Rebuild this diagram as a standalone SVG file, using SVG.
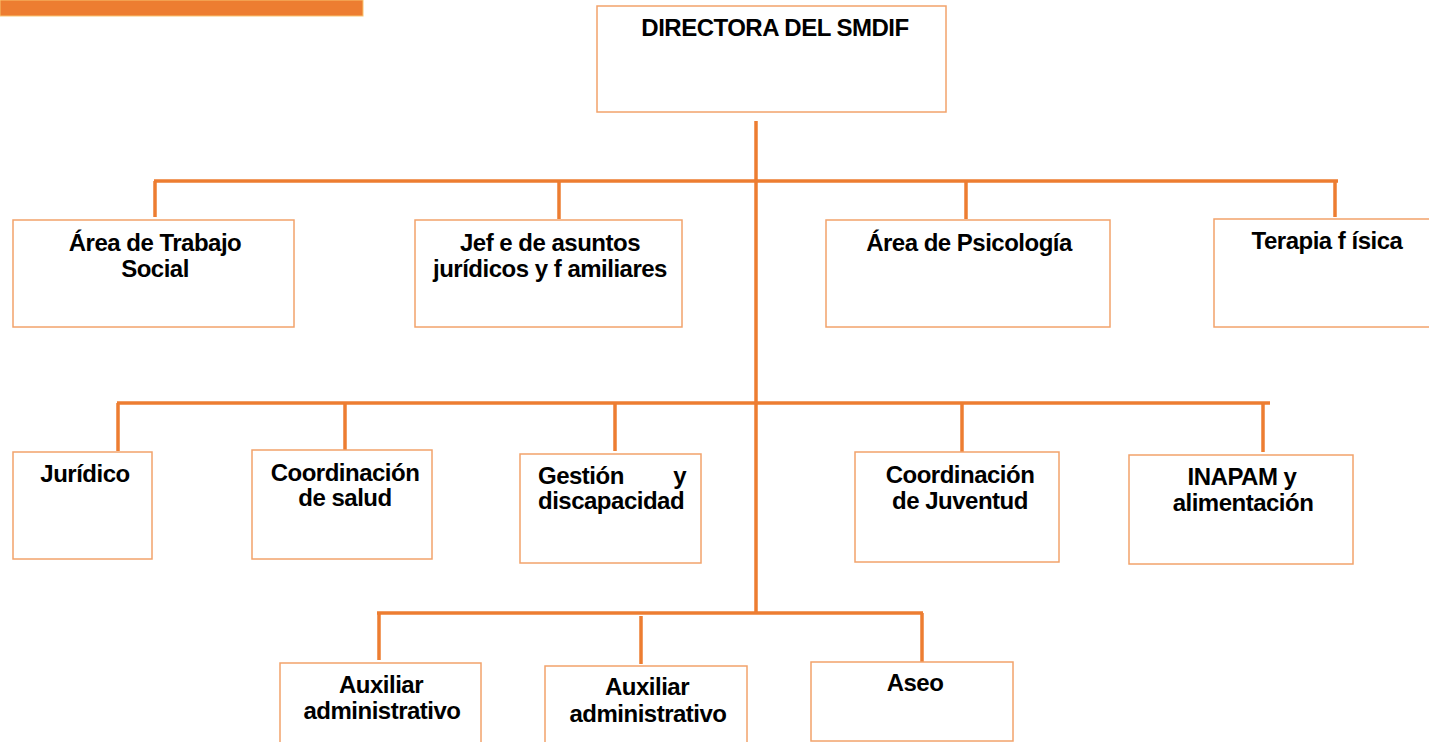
<svg xmlns="http://www.w3.org/2000/svg" width="1429" height="742" viewBox="0 0 1429 742">
<style>
.box{fill:#FFFFFF;stroke:#F2A36B;stroke-width:1.5}
.ln{stroke:#ED7D31;stroke-width:3.5;fill:none;stroke-linecap:butt}
text{font-family:"Liberation Sans",Arial,sans-serif;font-weight:bold;font-size:24px;fill:#000;letter-spacing:-0.5px}
.c{text-anchor:middle}
</style>
<rect x="0" y="0" width="363" height="16" fill="#ED7D31" stroke="#F9C46E" stroke-width="1"/>
<g id="connectors">
<line class="ln" x1="756" y1="121" x2="756" y2="614"/>
<line class="ln" x1="154" y1="181" x2="1338" y2="181"/>
<line class="ln" x1="155" y1="181" x2="155" y2="217"/>
<line class="ln" x1="559" y1="181" x2="559" y2="219"/>
<line class="ln" x1="966" y1="181" x2="966" y2="219"/>
<line class="ln" x1="1335" y1="181" x2="1335" y2="217"/>
<line class="ln" x1="117" y1="403" x2="1270" y2="403"/>
<line class="ln" x1="118" y1="403" x2="118" y2="451"/>
<line class="ln" x1="345" y1="403" x2="345" y2="452"/>
<line class="ln" x1="615" y1="403" x2="615" y2="451"/>
<line class="ln" x1="962" y1="403" x2="962" y2="452"/>
<line class="ln" x1="1263" y1="403" x2="1263" y2="452"/>
<line class="ln" x1="377" y1="613" x2="923" y2="613"/>
<line class="ln" x1="379" y1="613" x2="379" y2="660"/>
<line class="ln" x1="641" y1="616" x2="641" y2="664"/>
<line class="ln" x1="922" y1="613" x2="922" y2="662"/>
</g>
<g id="directora">
<rect class="box" x="597" y="6" width="349" height="106"/>
<text class="c" x="775" y="36" letter-spacing="-1">DIRECTORA DEL SMDIF</text>
</g>
<g id="trabajo-social">
<rect class="box" x="13" y="220" width="281" height="107"/>
<text class="c" x="155" y="251">Área de Trabajo</text>
<text class="c" x="155" y="277">Social</text>
</g>
<g id="jefe-juridicos">
<rect class="box" x="415" y="220" width="267" height="107"/>
<text class="c" x="550" y="251">Jef e de asuntos</text>
<text class="c" x="550" y="277">jurídicos y f amiliares</text>
</g>
<g id="psicologia">
<rect class="box" x="826" y="220" width="284" height="107"/>
<text class="c" x="969" y="251">Área de Psicología</text>
</g>
<g id="terapia">
<rect class="box" x="1214" y="219" width="220" height="108"/>
<text class="c" x="1327" y="249">Terapia f ísica</text>
</g>
<g id="juridico">
<rect class="box" x="13" y="452" width="139" height="107"/>
<text class="c" x="85" y="482">Jurídico</text>
</g>
<g id="coord-salud">
<rect class="box" x="252" y="450" width="180" height="109"/>
<text class="c" x="345" y="481">Coordinación</text>
<text class="c" x="345" y="506">de salud</text>
</g>
<g id="gestion">
<rect class="box" x="520" y="454" width="181" height="109"/>
<text x="538" y="484">Gestión</text>
<text x="686" y="484" text-anchor="end">y</text>
<text x="538" y="509">discapacidad</text>
</g>
<g id="coord-juventud">
<rect class="box" x="855" y="452" width="204" height="110"/>
<text class="c" x="960" y="483">Coordinación</text>
<text class="c" x="960" y="509">de Juventud</text>
</g>
<g id="inapam">
<rect class="box" x="1129" y="455" width="224" height="109"/>
<text class="c" x="1242" y="485">INAPAM y</text>
<text class="c" x="1243" y="511">alimentación</text>
</g>
<g id="auxiliar-1">
<rect class="box" x="280" y="663" width="201" height="85"/>
<text class="c" x="381" y="693">Auxiliar</text>
<text class="c" x="382" y="719">administrativo</text>
</g>
<g id="auxiliar-2">
<rect class="box" x="545" y="666" width="202" height="82"/>
<text class="c" x="647" y="695">Auxiliar</text>
<text class="c" x="648" y="722">administrativo</text>
</g>
<g id="aseo">
<rect class="box" x="811" y="662" width="202" height="79"/>
<text class="c" x="915" y="691">Aseo</text>
</g>
</svg>
